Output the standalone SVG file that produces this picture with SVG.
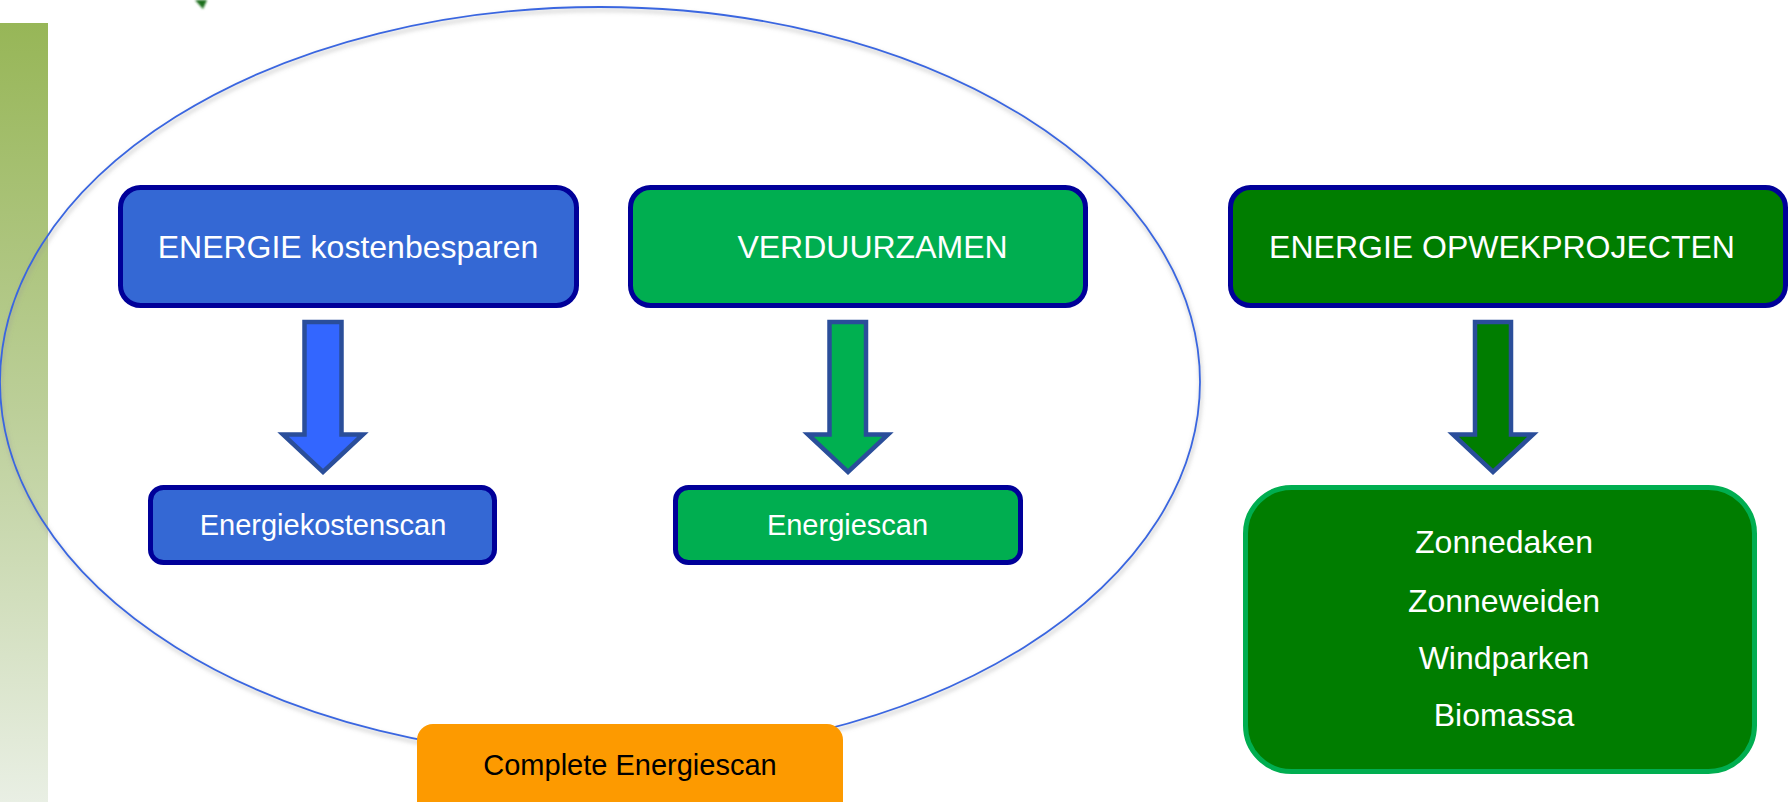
<svg xmlns="http://www.w3.org/2000/svg" width="1791" height="802" viewBox="0 0 1791 802">
  <defs>
    <linearGradient id="barGrad" x1="0" y1="0" x2="0" y2="1">
      <stop offset="0" stop-color="#97b657"/>
      <stop offset="0.5" stop-color="#bccf99"/>
      <stop offset="1" stop-color="#e9efe4"/>
    </linearGradient>
    <filter id="shadow" x="-5%" y="-5%" width="110%" height="110%">
      <feGaussianBlur stdDeviation="2"/>
    </filter>
    <filter id="soft" x="-50%" y="-50%" width="200%" height="200%">
      <feGaussianBlur stdDeviation="0.8"/>
    </filter>
  </defs>
  <style>
    .lbl { font-family: "Liberation Sans", Arial, sans-serif; fill: #ffffff; text-anchor: middle; }
    .big { font-size: 32px; }
    .small { font-size: 29px; }
    .list { font-size: 32px; }
    .topbox { stroke: #000099; stroke-width: 5; }
    .arrow { stroke: #2a4e9a; stroke-width: 4.5; stroke-linejoin: miter; }
  </style>
  <rect width="1791" height="802" fill="#ffffff"/>

  <!-- side bar and leaf fragment -->
  <rect x="0" y="23" width="48" height="779" fill="url(#barGrad)"/>
  <polygon points="195,0 207,0 203,9" fill="#1a6e1a" filter="url(#soft)"/>

  <!-- scan ellipse -->
  <g id="scope">
    <ellipse cx="601" cy="385" rx="600" ry="375" fill="none" stroke="#999999" stroke-opacity="0.45" stroke-width="3" filter="url(#shadow)"/>
    <ellipse cx="600" cy="382" rx="600" ry="375" fill="none" stroke="#3a66e0" stroke-width="1.8"/>
  </g>

  <g id="connectors">
    <polygon class="arrow" fill="#3366ff" points="304.5,322 341.5,322 341.5,434.5 363,434.5 323,472 283,434.5 304.5,434.5"/>
    <polygon class="arrow" fill="#00b050" points="829.5,322 866,322 866,434.5 888,434.5 848,472 808,434.5 829.5,434.5"/>
    <polygon class="arrow" fill="#007d00" points="1475,322 1511,322 1511,434.5 1533,434.5 1493,472 1453,434.5 1475,434.5"/>
  </g>

  <g id="node-kosten">
    <rect class="topbox" x="120.5" y="187.5" width="456" height="118" rx="20" fill="#3468d4"/>
    <text class="lbl big" x="348" y="258">ENERGIE kostenbesparen</text>
  </g>

  <g id="node-verduurzamen">
    <rect class="topbox" x="630.5" y="187.5" width="455" height="118" rx="20" fill="#00ae50"/>
    <text class="lbl big" x="872.5" y="258">VERDUURZAMEN</text>
  </g>

  <g id="node-opwek">
    <rect class="topbox" x="1230.5" y="187.5" width="555" height="118" rx="20" fill="#007d00"/>
    <text class="lbl big" x="1502" y="258">ENERGIE OPWEKPROJECTEN</text>
  </g>

  <g id="node-energiekostenscan">
    <rect class="topbox" x="150.5" y="487.5" width="344" height="75" rx="13" fill="#3468d4"/>
    <text class="lbl small" x="323" y="535">Energiekostenscan</text>
  </g>

  <g id="node-energiescan">
    <rect class="topbox" x="675.5" y="487.5" width="345" height="75" rx="13" fill="#00ae50"/>
    <text class="lbl small" x="847.5" y="535">Energiescan</text>
  </g>

  <g id="node-projecten">
    <rect x="1245.5" y="487.5" width="509" height="284" rx="46" fill="#007d00" stroke="#00ae50" stroke-width="5"/>
    <text class="lbl list" x="1504" y="553">Zonnedaken</text>
    <text class="lbl list" x="1504" y="612">Zonneweiden</text>
    <text class="lbl list" x="1504" y="669">Windparken</text>
    <text class="lbl list" x="1504" y="726">Biomassa</text>
  </g>

  <g id="node-complete">
    <rect x="417" y="724" width="426" height="100" rx="16" fill="#fd9a00"/>
    <text class="lbl small" x="630" y="775" style="fill:#000000">Complete Energiescan</text>
  </g>
</svg>
